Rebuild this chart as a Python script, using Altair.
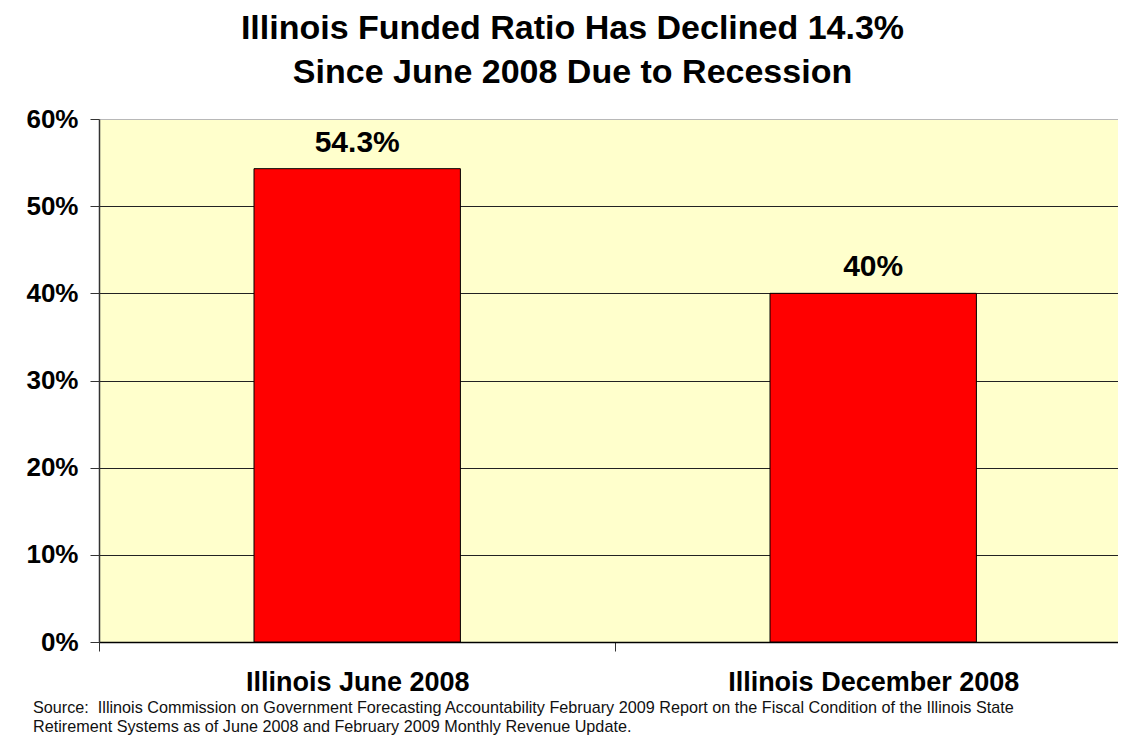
import altair as alt
import pandas as pd

FONT = "Liberation Sans, Arial, Helvetica, sans-serif"

categories = ["Illinois June 2008", "Illinois December 2008"]
ratios = [54.3, 40.0]
y_ticks = [0, 10, 20, 30, 40, 50, 60]
title_lines = ["Illinois Funded Ratio Has Declined 14.3%", "Since June 2008 Due to Recession"]
source_text = ("Source:\u00a0 Illinois Commission on Government Forecasting Accountability February 2009 Report on the "
               "Fiscal Condition of the Illinois State\nRetirement Systems as of June 2008 and February 2009 "
               "Monthly Revenue Update.")

df = pd.DataFrame({"category": categories, "ratio": ratios})

HALF_STEP = 258

x_enc = alt.X(
    "category:N",
    sort=categories,
    title=None,
    scale=alt.Scale(paddingInner=0.6, paddingOuter=0.2874, align=0.5226),
    axis=alt.Axis(
        labelAngle=0,
        labelFont=FONT,
        labelFontSize=27,
        labelFontWeight="bold",
        labelColor="black",
        labelPadding=18,
        labelLimit=0,
        tickOffset=-HALF_STEP,
        labelOffset=HALF_STEP,
        tickSize=9,
        tickColor="#333333",
        domainColor="#000000",
        domainWidth=1.5,
        grid=False,
    ),
)

y_enc = alt.Y(
    "ratio:Q",
    title=None,
    scale=alt.Scale(domain=[0, 60], nice=False),
    axis=alt.Axis(
        values=y_ticks,
        labelExpr="datum.value + '%'",
        labelFont=FONT,
        labelFontSize=26,
        labelFontWeight="bold",
        labelColor="black",
        labelPadding=12,
        tickSize=9,
        tickColor="#333333",
        domainColor="#333333",
        domainWidth=1.5,
        grid=True,
        gridColor={"condition": {"test": "datum.value === 60", "value": "#b8b8b8"}, "value": "#222222"},
        gridWidth=1.2,
    ),
)

bars = alt.Chart(df).mark_bar(color="#FF0000", stroke="#000000", strokeWidth=1).encode(x=x_enc, y=y_enc)

labels = (
    alt.Chart(df)
    .transform_calculate(label="datum.ratio + '%'")
    .mark_text(dy=-17, baseline="alphabetic", align="center", font=FONT, fontSize=30,
               fontWeight="bold", color="black")
    .encode(x=x_enc, y=y_enc, text="label:N")
)

source = (
    alt.Chart(pd.DataFrame({"t": [source_text]}))
    .mark_text(align="left", baseline="alphabetic", font=FONT, fontSize=16.2, color="#111111",
               lineBreak="\n", lineHeight=19)
    .encode(x=alt.value(-66), y=alt.value(594), text="t:N")
)

chart = (
    alt.layer(bars, labels, source)
    .properties(
        width=1019,
        height=523,
        autosize=alt.AutoSizeParams(type="none"),
        padding={"left": 91, "top": 111, "right": 0, "bottom": 94},
        background="white",
        title=alt.TitleParams(
            text=title_lines,
            font=FONT,
            fontSize=34,
            fontWeight="bold",
            color="black",
            anchor="middle",
            dx=-36,
            offset=16,
            lineHeight=44,
        ),
    )
    .configure_view(fill="#FFFFCC", stroke=None)
)

chart.save("out.html", embed_options={"renderer": "svg", "actions": False})
